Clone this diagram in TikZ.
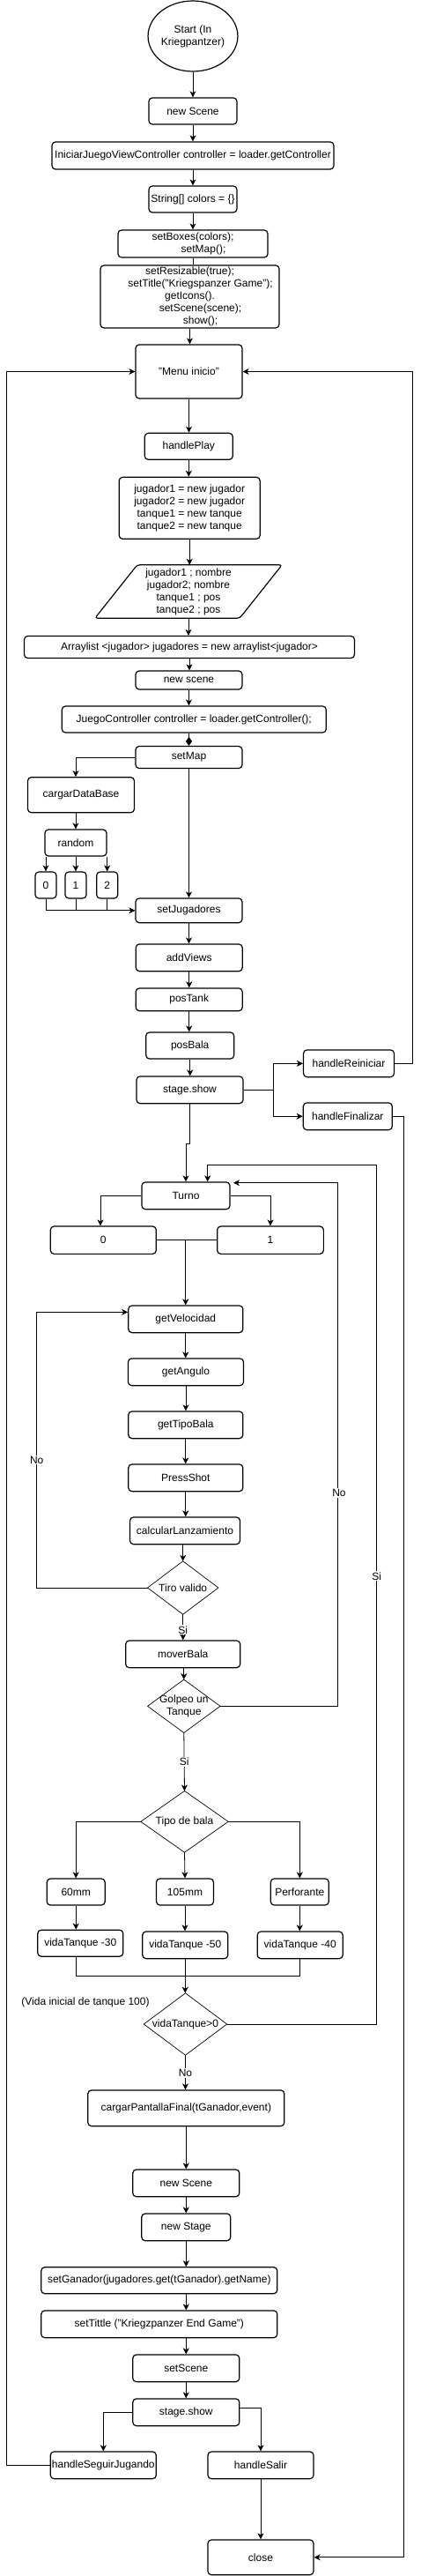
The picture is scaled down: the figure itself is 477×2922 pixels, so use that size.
\documentclass[tikz,border=0pt]{standalone}
\usepackage{fontspec}
\setmainfont{Liberation Sans}
\usetikzlibrary{arrows.meta,shapes.geometric,calc}
\begin{document}
\begin{tikzpicture}[x=1pt,y=-1pt,
  txt/.style={font=\fontsize{12}{14}\selectfont},
  box/.style={txt,draw,line width=1.2pt,rounded corners=4pt,inner sep=0pt,align=center},
  sz/.style 2 args={minimum width=#1,minimum height=#2},
  dia/.style={txt,inner sep=0pt,align=center},
  diab/.style={draw,line width=0.7pt},
  line/.style={line width=0.8pt},
  conn/.style={line width=0.8pt,-{Stealth[length=7pt,width=7pt,inset=2pt]}},
  lbl/.style={txt,fill=white,inner sep=1pt}]
\fill[white] (0,0) rectangle (477,2922);
\useasboundingbox (0,0) rectangle (477,2922);

% ---------- nodes ----------
\node[ellipse,draw,line width=1.2pt,inner sep=0pt,sz={100}{80},txt,align=center] (start) at (219,41) {Start (In\\Kriegpantzer)};
\node[box,sz={100}{30}] (ns1) at (219,126) {new Scene};
\node[box,sz={320}{31}] (ini) at (219,176.5) {IniciarJuegoViewController controller = loader.getController};
\node[box,sz={100}{30}] (str) at (219,226) {String[] colors = \{\}};
\node[box,sz={170}{31}] (sbx) at (219,276.5) {setBoxes(colors);\\\hspace*{24pt}setMap();};
\node[box,sz={203}{71}] (srs) at (215.5,336.5) {setResizable(true);\\\hspace*{24pt}setTitle("Kriegspanzer Game");\\getIcons().\\\hspace*{24pt}setScene(scene);\\\hspace*{24pt}show();};
\node[box,sz={121}{61}] (menu) at (214.5,421.5) {"Menu inicio"};
\node[box,sz={100}{30}] (hp) at (214.3,506.3) {handlePlay};
\node[box,sz={160}{70}] (jug) at (215.2,576.3) {jugador1 = new jugador\\jugador2 = new jugador\\tanque1 = new tanque\\tanque2 = new tanque};
\node[txt,inner sep=0pt,align=center,sz={212}{60}] (par) at (214,671) {jugador1 ; nombre\\jugador2; nombre\\tanque1 ; pos\\tanque2 ; pos};
\draw[line width=1.2pt,rounded corners=3pt] ($(par.north west)+(48,0)$) -- (par.north east) -- ($(par.south east)+(-48,0)$) -- (par.south west) -- cycle;
\node[box,sz={375}{25}] (arr) at (215,734) {Arraylist <jugador> jugadores = new arraylist<jugador>};
\node[box,sz={121}{21}] (ns2) at (214.5,771.5) {new scene};
\node[box,sz={300}{30}] (jc) at (220.3,816) {JuegoController controller = loader.getController();};
\node[box,sz={121}{25}] (sm) at (214.5,859) {setMap};
\node[box,sz={121}{40}] (cdb) at (92,901.7) {cargarDataBase};
\node[box,sz={70}{30}] (rnd) at (86,956) {random};
\node[box,sz={24}{30}] (r0) at (52,1004) {0};
\node[box,sz={24}{30}] (r1) at (86,1004) {1};
\node[box,sz={24}{30}] (r2) at (121.7,1004) {2};
\node[box,sz={121}{27.7}] (sj) at (214.5,1032.8) {setJugadores};
\node[box,sz={121}{30.7}] (av) at (214.7,1086.3) {addViews};
\node[box,sz={121}{25.7}] (pt) at (214.7,1133.8) {posTank};
\node[box,sz={100}{30}] (pb) at (215.7,1186) {posBala};
\node[box,sz={121}{30.7}] (ss) at (215.5,1236.3) {stage.show};
\node[box,sz={103}{30.7}] (hr) at (396,1206.3) {handleReiniciar};
\node[box,sz={101}{30.7}] (hf) at (394.8,1266.3) {handleFinalizar};
\node[box,sz={100}{30.7}] (tu) at (211,1356.3) {Turno};
\node[box,sz={120}{31.3}] (t0) at (117.3,1406.7) {0};
\node[box,sz={120.7}{31.3}] (t1) at (307,1406.7) {1};
\node[box,sz={130}{30.7}] (gv) at (210.8,1496.3) {getVelocidad};
\node[box,sz={131}{30.7}] (ga) at (211,1556.3) {getAngulo};
\node[box,sz={130}{30.7}] (gt) at (210.8,1616.3) {getTipoBala};
\node[box,sz={130}{30.7}] (ps) at (210.8,1676.3) {PressShot};
\node[box,sz={125}{30.7}] (cl) at (210,1736.3) {calcularLanzamiento};
\node[dia,sz={80}{60}] (tv) at (207.7,1801) {Tiro valido};
\draw[diab] (tv.north) -- (tv.east) -- (tv.south) -- (tv.west) -- cycle;
\node[box,sz={130}{30.7}] (mb) at (207.7,1876.3) {moverBala};
\node[dia,sz={82}{60}] (gu) at (208.8,1935.3) {Golpeo un\\Tanque};
\draw[diab] (gu.north) -- (gu.east) -- (gu.south) -- (gu.west) -- cycle;
\node[dia,sz={99}{69.3}] (tb) at (209.5,2066.3) {Tipo de bala};
\draw[diab] (tb.north) -- (tb.east) -- (tb.south) -- (tb.west) -- cycle;
\node[box,sz={66}{30}] (m60) at (86.2,2146) {60mm};
\node[box,sz={65}{30}] (m105) at (210,2146) {105mm};
\node[box,sz={66}{30}] (mpf) at (340.3,2146) {Perforante};
\node[box,sz={97}{30}] (v30) at (91.3,2204.2) {vidaTanque -30};
\node[box,sz={97}{30.7}] (v50) at (210.3,2206.3) {vidaTanque -50};
\node[box,sz={97}{30.7}] (v40) at (340.7,2206.3) {vidaTanque -40};
\node[txt,inner sep=0pt] (note) at (97,2271.7) {(Vida inicial de tanque 100)};
\node[dia,sz={94}{70}] (vt) at (210.5,2296) {vidaTanque>0};
\draw[diab] (vt.north) -- (vt.east) -- (vt.south) -- (vt.west) -- cycle;
\node[box,sz={223}{40.7}] (cpf) at (211.3,2391.3) {cargarPantallaFinal(tGanador,event)};
\node[box,sz={121}{30.7}] (ns3) at (211.3,2476.3) {new Scene};
\node[box,sz={101}{30.7}] (nst) at (211.3,2526.3) {new Stage};
\node[box,sz={268}{30}] (sg) at (180.8,2586.7) {setGanador(jugadores.get(tGanador).getName)};
\node[box,sz={268}{30.7}] (stt) at (180.8,2636.3) {setTittle ("Kriegzpanzer End Game")};
\node[box,sz={121}{30.7}] (ssc) at (211.3,2686.3) {setScene};
\node[box,sz={121}{30.7}] (ss2) at (211.3,2736.3) {stage.show};
\node[box,sz={120}{30.7}] (hsj) at (117.3,2796.3) {handleSeguirJugando};
\node[box,sz={120}{30.7}] (hsa) at (296,2796.3) {handleSalir};
\node[box,sz={120}{39.7}] (cls) at (296,2900.8) {close};

% ---------- waypoints ----------
\coordinate (noL) at (41.7,1801);
\coordinate (noR) at (383.3,1935.3);
\coordinate (tuNo) at (265,1341.7);
\coordinate (siR) at (427.7,2296);
\coordinate (siT) at (235.7,1321.7);
\coordinate (vj) at (0,2241);
\coordinate (lpL) at (7.3,2796.3);

% ---------- connectors ----------
\draw[conn] (start) -- (ns1);
\draw[conn] (ns1) -- (ini);
\draw[conn] (ini) -- (str);
\draw[conn] (str) -- (sbx);
\draw[line] (sbx.south) -- (sbx.south |- srs.north);
\draw[conn] (srs.south) -- (srs.south |- menu.north);
\draw[conn] (menu.south) -- (menu.south |- hp.north);
\draw[conn] (hp.south) -- (hp.south |- jug.north);
\draw[conn] (jug.south) -- (jug.south |- par.north);
\draw[conn] (par.south) -- (par.south |- arr.north);
\draw[conn] (arr.south) -- (arr.south |- ns2.north);
\draw[conn] (ns2.south) -- (ns2.south |- jc.north);
\draw[line width=0.8pt,-{Diamond[length=10pt,width=7pt]}] (sm.north |- jc.south) -- (sm.north);
\draw[conn] (sm.west) -| (rnd.north |- cdb.north);
\draw[conn] (rnd.north |- cdb.south) -- (rnd.north);
\draw[conn] (r0.north |- rnd.south) -- (r0.north);
\draw[conn] (rnd.south) -- (r1.north);
\draw[conn] (r2.north |- rnd.south) -- (r2.north);
\draw[conn] (r0.south) |- (sj.west);
\draw[line] (r1.south) -- (r1.south |- sj.west);
\draw[line] (r2.south) -- (r2.south |- sj.west);
\draw[conn] (sm.south) -- (sm.south |- sj.north);
\draw[conn] (sj.south) -- (sj.south |- av.north);
\draw[conn] (av.south) -- (av.south |- pt.north);
\draw[conn] (pt.south) -- (pt.south |- pb.north);
\draw[conn] (pb.south) -- (pb.south |- ss.north);
\draw[conn] (ss.east) -- ++(34,0) |- (hr.west);
\draw[conn] (ss.east) -- ++(34,0) |- (hf.west);
\draw[conn] (hr.east) -- ++(20,0) |- (menu.east);
\draw[conn] (hf.east) -- ++(12,0) |- (cls.east);
\draw[conn] (ss.south) -- ++(0,45) -| (tu.north);
\draw[conn] (tu.west) -| ($(t0.north)+(-3.3,0)$);
\draw[conn] (tu.east) -| (t1.north);
\draw[line] (t0.east) -- (t1.west);
\draw[conn] (t0.east -| gv.north) -- (gv.north);
\draw[conn] (gv.south) -- (gv.south |- ga.north);
\draw[conn] (ga.south) -- (ga.south |- gt.north);
\draw[conn] (gt.south) -- (gt.south |- ps.north);
\draw[conn] (ps.south) -- (ps.south |- cl.north);
\draw[conn] (tv.north |- cl.south) -- (tv.north);
\draw[conn] (tv.west) -- (noL) |- ($(gv.north west)+(0,8)$);
\node[lbl] (lno1) at (41.7,1656) {No};
\draw[conn] (tv.south) -- node[lbl,pos=0.6] (lsi1) {Si} (mb.north);
\draw[conn] (gu.north |- mb.south) -- (gu.north);
\draw[conn] (gu.east) -- (noR) |- (tuNo);
\node[lbl] (lno2) at (385,1693.3) {No};
\draw[conn] (gu.south) -- node[lbl,pos=0.5] (lsi2) {Si} (tb.north);
\draw[conn] (tb.west) -| (m60.north);
\draw[conn] (tb.south) -- (m105.north);
\draw[conn] (tb.east) -| (mpf.north);
\draw[conn] (m60.south) -- (m60.south |- v30.north);
\draw[conn] (m105.south) -- (m105.south |- v50.north);
\draw[conn] (mpf.south) -- (mpf.south |- v40.north);
\draw[line] (m60.south |- v30.south) -- (m60.south |- vj) -| (v40.south);
\draw[line width=1.2pt,-{Stealth[length=7pt,width=7pt,inset=2pt]}] (v50.south) -- (v50.south |- vt.north);
\draw[conn] (vt.east) -- (siR) |- (siT) -- (siT |- tu.north);
\node[lbl] (lsi3) at (427.7,1787.7) {Si};
\draw[conn] (vt.south) -- node[lbl,pos=0.52] (lno3) {No} (vt.south |- cpf.north);
\draw[conn] (cpf.south) -- (cpf.south |- ns3.north);
\draw[conn] (ns3.south) -- (ns3.south |- nst.north);
\draw[conn] (nst.south) -- (nst.south |- sg.north);
\draw[conn] (nst.south |- sg.south) -- (nst.south |- stt.north);
\draw[conn] (ssc.north |- stt.south) -- (ssc.north);
\draw[conn] (ssc.south) -- (ssc.south |- ss2.north);
\draw[conn] (ss2.west) -| (hsj.north);
\draw[conn] ($(ss2.east)+(0,-5.3)$) -| (hsa.north);
\draw[conn] (hsj.west) -- (lpL) |- (menu.west);
\draw[conn] (hsa.south) -- (hsa.south |- cls.north);
\end{tikzpicture}
\end{document}
